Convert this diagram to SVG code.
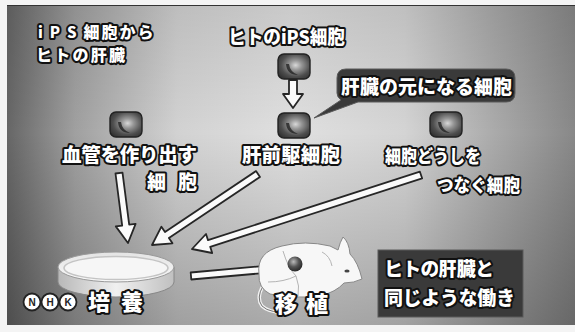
<svg xmlns="http://www.w3.org/2000/svg" width="575" height="332" viewBox="0 0 575 332">
  <defs>
    <linearGradient id="bgH" x1="0" y1="0" x2="1" y2="0">
      <stop offset="0" stop-color="#666"/>
      <stop offset="0.12" stop-color="#a0a0a0"/>
      <stop offset="0.3" stop-color="#d2d2d2"/>
      <stop offset="0.5" stop-color="#e0e0e0"/>
      <stop offset="0.7" stop-color="#d4d4d4"/>
      <stop offset="0.86" stop-color="#aaa"/>
      <stop offset="1" stop-color="#888"/>
    </linearGradient>
    <linearGradient id="bgV" x1="0" y1="0" x2="0" y2="1">
      <stop offset="0" stop-color="#000" stop-opacity="0.1"/>
      <stop offset="0.4" stop-color="#000" stop-opacity="0"/>
      <stop offset="1" stop-color="#000" stop-opacity="0.24"/>
    </linearGradient>
    <radialGradient id="cellFill" cx="0.55" cy="0.45" r="0.65">
      <stop offset="0" stop-color="#d8d8d8"/>
      <stop offset="0.3" stop-color="#959595"/>
      <stop offset="0.7" stop-color="#4e4e4e"/>
      <stop offset="1" stop-color="#333"/>
    </radialGradient>
    <linearGradient id="dishTop" x1="0" y1="0" x2="0" y2="1">
      <stop offset="0" stop-color="#e4e4e4"/>
      <stop offset="1" stop-color="#f8f8f8"/>
    </linearGradient>
    <linearGradient id="dishSide" x1="0" y1="0" x2="1" y2="0">
      <stop offset="0" stop-color="#b8b8b8"/>
      <stop offset="0.5" stop-color="#f0f0f0"/>
      <stop offset="1" stop-color="#c0c0c0"/>
    </linearGradient>
    <radialGradient id="ball" cx="0.4" cy="0.35" r="0.7">
      <stop offset="0" stop-color="#bbb"/>
      <stop offset="0.5" stop-color="#555"/>
      <stop offset="1" stop-color="#222"/>
    </radialGradient>
    <g id="cell">
      <rect x="0" y="0" width="32" height="25" rx="6" fill="url(#cellFill)" stroke="#222" stroke-width="1.4"/>
      <path d="M8 10 Q9 21 20 21 Q12 18 11 10 Z" fill="#1e1e1e" opacity="0.75"/>
    </g>
    <style>
      .t { font-family: "Noto Sans CJK JP", "Noto Sans", sans-serif; font-weight: 900; fill: #fff; stroke: #111; stroke-width: 4; stroke-linejoin: round; paint-order: stroke; }
      .arrow { fill: #fafafa; stroke: #262626; stroke-width: 1.8; stroke-linejoin: round; }
      .box { fill: #3a3a3a; stroke: #5a5a5a; stroke-width: 1; }
    </style>
  </defs>

  <!-- paper and screen background -->
  <rect x="0" y="0" width="575" height="332" fill="#f4f4f4"/>
  <rect x="7" y="5" width="568" height="320" fill="url(#bgH)"/>
  <rect x="7" y="5" width="568" height="320" fill="url(#bgV)"/>
  <line x1="7" y1="5.5" x2="575" y2="5.5" stroke="#333" stroke-width="1"/>

  <!-- title -->
  <g id="title">
    <text class="t" x="38" y="38" font-size="15" stroke-width="3.4"><tspan letter-spacing="7">iPS</tspan><tspan font-size="16" letter-spacing="2">細胞から</tspan></text>
    <text class="t" x="36" y="61" font-size="16" stroke-width="3.4" textLength="89" lengthAdjust="spacing">ヒトの肝臓</text>
  </g>

  <!-- connectors -->
  <g id="connectors">
    <polygon class="arrow" points="289,80 297,80 297,94 303,94 293,108 283,94 289,94"/>
    <polygon class="arrow" points="115.5,173.5 122.2,225.6 115.8,226.4 128,243 135.6,223.9 129.2,224.7 122.5,172.6"/>
    <polygon class="arrow" points="256,171.1 165,232.1 161.4,226.7 152,245 172.5,243.3 168.9,237.9 260,176.9"/>
    <polygon class="arrow" points="419.9,171.7 208,240.1 206,234 192,249 212.2,253 210.2,246.8 422.1,178.3"/>
    <polygon class="arrow" points="191.3,279.5 263.4,273.1 264,279.6 281,268 262.2,259.6 262.8,266.1 190.7,272.5"/>
  </g>

  <g id="ips-cell">
    <use href="#cell" x="278" y="54"/>
    <text class="t" x="228" y="44" font-size="19" textLength="117" lengthAdjust="spacingAndGlyphs">ヒトのiPS細胞</text>
  </g>

  <g id="hepatic-progenitor">
    <use href="#cell" x="278" y="113"/>
    <text class="t" x="242" y="162" font-size="19.5" textLength="98" lengthAdjust="spacing">肝前駆細胞</text>
  </g>

  <g id="callout">
    <path class="box" d="M346 69 H506 Q515 69 515 78 V93 Q515 102 506 102 H358 L314 118 L341 100 Q337 97 337 93 V78 Q337 69 346 69 Z"/>
    <text class="t" x="341" y="94" font-size="19" textLength="171" lengthAdjust="spacing">肝臓の元になる細胞</text>
  </g>

  <g id="vascular-cell">
    <use href="#cell" x="110" y="112"/>
    <text class="t" x="62" y="162" font-size="19.5" textLength="135" lengthAdjust="spacing">血管を作り出す</text>
    <text class="t" x="147" y="189" font-size="19" textLength="50" lengthAdjust="spacing">細胞</text>
  </g>

  <g id="connecting-cell">
    <use href="#cell" x="430" y="112"/>
    <text class="t" x="385" y="163" font-size="18" textLength="96" lengthAdjust="spacingAndGlyphs">細胞どうしを</text>
    <text class="t" x="437" y="192" font-size="18" textLength="83" lengthAdjust="spacingAndGlyphs">つなぐ細胞</text>
  </g>

  <g id="culture">
    <path d="M58 267 V282 A58 15 0 0 0 174 282 V267 Z" fill="url(#dishSide)" stroke="#888" stroke-width="1"/>
    <ellipse cx="116" cy="267" rx="58" ry="15" fill="url(#dishTop)" stroke="#999" stroke-width="1"/>
    <ellipse cx="116" cy="268" rx="52" ry="11.5" fill="#f6f6f6" stroke="#c4c4c4" stroke-width="1.5"/>
    <g font-family="Liberation Sans, sans-serif" font-weight="bold" font-size="10" text-anchor="middle">
      <circle cx="32" cy="302" r="8.5" fill="#fff" stroke="#222" stroke-width="1.8"/>
      <circle cx="50" cy="302" r="8.5" fill="#fff" stroke="#222" stroke-width="1.8"/>
      <circle cx="68" cy="302" r="8.5" fill="#fff" stroke="#222" stroke-width="1.8"/>
      <text x="32" y="305.5" fill="#222">N</text>
      <text x="50" y="305.5" fill="#222">H</text>
      <text x="68" y="305.5" fill="#222">K</text>
    </g>
    <text class="t" x="88" y="310" font-size="22" textLength="55" lengthAdjust="spacing">培養</text>
  </g>

  <g id="transplant">
    <path d="M263 286 Q256 298 262 306 Q270 314 292 312" fill="none" stroke="#f2f2f2" stroke-width="3.5"/>
    <path d="M263 286 Q256 298 262 306 Q270 314 292 312" fill="none" stroke="#555" stroke-width="0.8"/>
    <path d="M259 274 Q256 252 282 246 Q305 240 330 246 L338 250 Q340 242 343 237 Q349 242 350 254 Q358 262 362 279 Q354 283 344 283 Q336 292 320 296 Q292 299 270 294 Q258 288 259 274 Z" fill="#f7f7f7" stroke="#888" stroke-width="1"/>
    <path d="M322 252 Q330 256 332 266 M283 251 Q288 268 296 276 Q300 286 298 296 M296 276 Q284 282 268 282" fill="none" stroke="#b4b4b4" stroke-width="1"/>
    <ellipse cx="347" cy="271" rx="2.6" ry="1.6" fill="#444"/>
    <circle cx="295" cy="264" r="7.5" fill="url(#ball)"/>
    <text class="t" x="275" y="312" font-size="22" textLength="53" lengthAdjust="spacing">移植</text>
  </g>

  <g id="result">
    <rect class="box" x="378" y="250" width="145" height="67" fill="#343434"/>
    <text class="t" x="384" y="276" font-size="19" textLength="110" lengthAdjust="spacing">ヒトの肝臓と</text>
    <text class="t" x="384" y="305" font-size="19" textLength="131" lengthAdjust="spacing">同じような働き</text>
  </g>
</svg>
